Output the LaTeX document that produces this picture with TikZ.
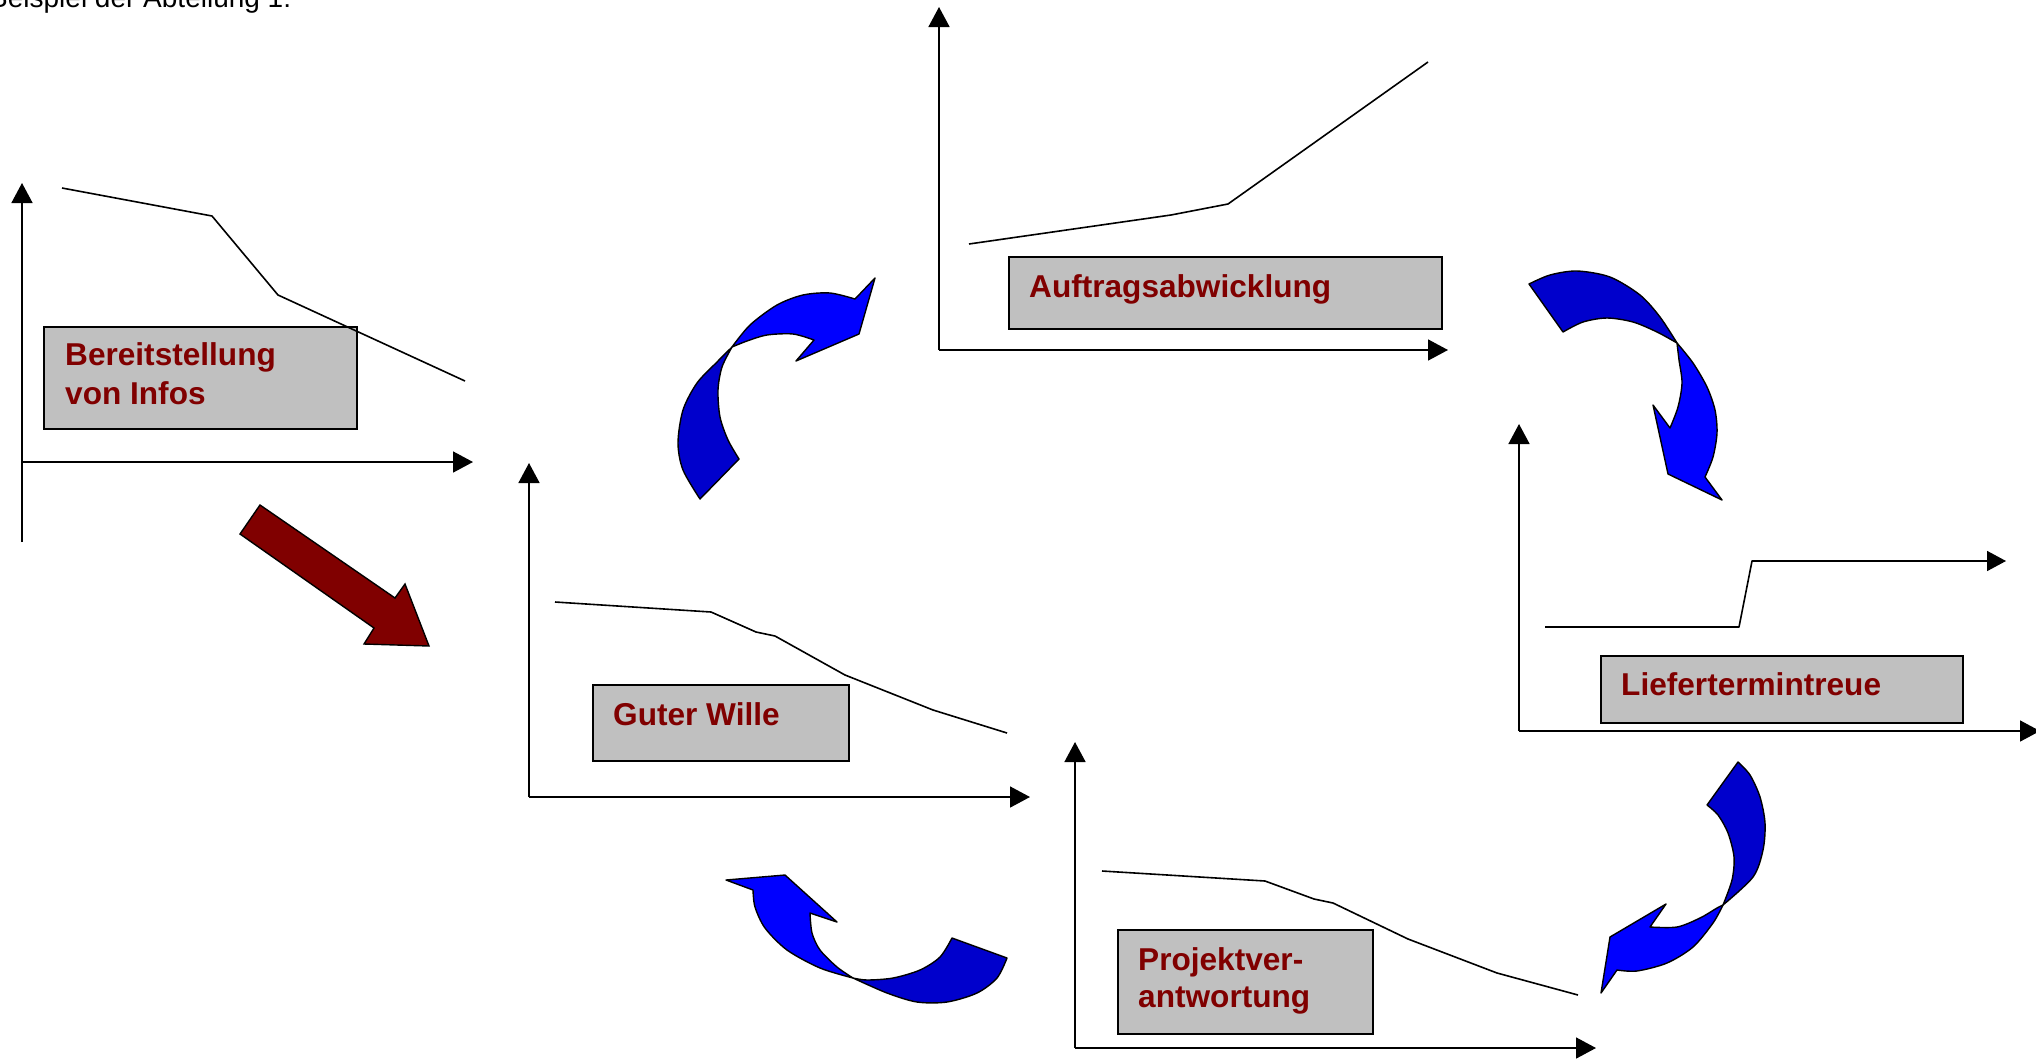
\documentclass[tikz,border=0pt]{standalone}
\usepackage{fontspec}
\setmainfont{Liberation Sans}
\usetikzlibrary{arrows.meta}
\definecolor{boxgray}{HTML}{C0C0C0}
\definecolor{labelred}{HTML}{800000}
\definecolor{arrowdark}{HTML}{0000CC}
\definecolor{arrowblue}{HTML}{0000FF}
\newcommand\labelsize{\fontsize{31.6pt}{38pt}\selectfont\bfseries}
\newcommand\captionsize{\fontsize{28pt}{34pt}\selectfont}

\begin{document}
\begin{tikzpicture}[x=1pt,y=-1pt,
  axis/.style={line width=1.6pt,-{Triangle[length=20pt,width=21pt]}},
  curveline/.style={line width=1.6pt,line join=round},
  valuebox/.style={draw=black,line width=1.8pt,fill=boxgray,inner sep=0pt,anchor=north west},
  boxlabel/.style={font=\labelsize,text=labelred,anchor=base west,inner sep=0pt},
  backband/.style={fill=arrowdark,draw=black,line width=1.4pt,line join=round},
  frontband/.style={fill=arrowblue,draw=black,line width=1.4pt,line join=round},
  bigarrow/.style={fill=labelred,draw=black,line width=1.4pt,line join=miter}]

\clip (0,0) rectangle (2036,1058);
\fill[white] (0,0) rectangle (2036,1058);

% heading, partly outside the page
\node[anchor=base west,inner sep=0pt,font=\captionsize] (heading) at (-11,7) {Beispiel der Abteilung 1:};

% ---------- chart 1: Bereitstellung von Infos ----------
\coordinate (c1yb) at (22,542);
\coordinate (c1yt) at (22,183);
\coordinate (c1o)  at (22,462);
\coordinate (c1xe) at (473,462);
\node[valuebox,minimum width=313,minimum height=102] (box1) at (43,326) {};
\draw[axis] (c1yb) -- (c1yt);
\draw[axis] (c1o) -- (c1xe);
\draw[curveline] (62,188) -- (212,216) -- (278,295) -- (465,381);
\node[boxlabel] (lab1a) at (65,365) {Bereitstellung};
\node[boxlabel] (lab1b) at (65,404) {von Infos};

% ---------- chart 2: Auftragsabwicklung ----------
\coordinate (c2yt) at (939,7);
\coordinate (c2o)  at (939,350);
\coordinate (c2xe) at (1448,350);
\node[valuebox,minimum width=433,minimum height=72] (box2) at (1008,256) {};
\draw[axis] (c2o) -- (c2yt);
\draw[axis] (c2o) -- (c2xe);
\draw[curveline] (969,244) -- (1171,215) -- (1228,204) -- (1428,62);
\node[boxlabel] (lab2) at (1029,297) {Auftragsabwicklung};

% ---------- chart 3: Guter Wille ----------
\coordinate (c3yt) at (529,463);
\coordinate (c3o)  at (529,797);
\coordinate (c3xe) at (1030,797);
\node[valuebox,minimum width=256,minimum height=76] (box3) at (592,684) {};
\draw[axis] (c3o) -- (c3yt);
\draw[axis] (c3o) -- (c3xe);
\draw[curveline] (555,602) -- (711,612) -- (756,632) -- (775,636) -- (845,675) -- (933,710) -- (1007,733);
\node[boxlabel] (lab3) at (613,725) {Guter Wille};

% ---------- chart 4: Projektverantwortung ----------
\coordinate (c4yt) at (1075,742);
\coordinate (c4o)  at (1075,1048);
\coordinate (c4xe) at (1596,1048);
\node[valuebox,minimum width=255,minimum height=104] (box4) at (1117,929) {};
\draw[axis] (c4o) -- (c4yt);
\draw[axis] (c4o) -- (c4xe);
\draw[curveline] (1102,871) -- (1265,881) -- (1314,899) -- (1333,903) -- (1408,939) -- (1497,973) -- (1578,995);
\node[boxlabel] (lab4a) at (1138,970) {Projektver-};
\node[boxlabel] (lab4b) at (1138,1007) {antwortung};

% ---------- chart 5: Liefertermintreue ----------
\coordinate (c5yt) at (1519,424);
\coordinate (c5o)  at (1519,731);
\coordinate (c5xe) at (2040,731);
\coordinate (c5s)  at (1545,627);
\coordinate (c5e)  at (2006,561);
\node[valuebox,minimum width=362,minimum height=67] (box5) at (1600,655) {};
\draw[axis] (c5o) -- (c5yt);
\draw[axis] (c5o) -- (c5xe);
\draw[curveline,-{Triangle[length=19pt,width=20pt]}] (c5s) -- (1739,627) -- (1752,561) -- (c5e);
\node[boxlabel] (lab5) at (1621,695) {Liefertermintreue};

% ---------- dark red arrow from chart 1 to chart 3 ----------
\draw[bigarrow] (260,505) -- (395,598) -- (405,584) -- (429,646) -- (364,644) -- (374,628) -- (240,534) -- cycle;

% ---------- curved arrow: chart 3 -> chart 2 ----------
\path[backband] plot[smooth] coordinates {(700,499) (683,470) (678,443) (683,410) (697,383) (717,362) (732,347)}
  -- plot[smooth] coordinates {(732,347) (722,367) (718,390) (720,417) (728,440) (739,459)} -- cycle;
\path[frontband] plot[smooth] coordinates {(732,347) (750,325) (777,305) (803,295) (830,293) (855,299)}
  -- (875,278) -- (859,334) -- (796,361) -- (814,340)
  -- plot[smooth] coordinates {(814,340) (793,334) (767,335) (747,341) (732,347)} -- cycle;

% ---------- curved arrow: chart 2 -> chart 5 ----------
\path[backband] plot[smooth] coordinates {(1529,284) (1550,275) (1577,271) (1610,277) (1640,295) (1660,317) (1677,343)}
  -- plot[smooth] coordinates {(1677,343) (1657,332) (1633,322) (1607,318) (1583,322) (1563,332)} -- cycle;
\path[frontband] plot[smooth] coordinates {(1677,343) (1693,363) (1707,387) (1715,410) (1717,433) (1713,457) (1705,477)}
  -- (1722,500) -- (1668,474) -- (1653,405) -- (1670,428)
  -- plot[smooth] coordinates {(1670,428) (1678,407) (1682,383) (1679,360) (1677,343)} -- cycle;

% ---------- curved arrow: chart 5 -> chart 4 ----------
\path[backband] plot[smooth] coordinates {(1738,762) (1750,775) (1760,797) (1765,823) (1763,850) (1753,877) (1723,905)}
  -- plot[smooth] coordinates {(1723,905) (1732,880) (1734,857) (1728,833) (1718,815) (1707,805)} -- cycle;
\path[frontband] plot[smooth] coordinates {(1723,905) (1713,923) (1693,947) (1667,963) (1637,971) (1617,970)}
  -- (1601,993) -- (1610,937) -- (1666,904) -- (1650,927)
  -- plot[smooth] coordinates {(1650,927) (1677,927) (1700,918) (1717,908) (1723,905)} -- cycle;

% ---------- curved arrow: chart 4 -> chart 3 ----------
\path[backband] plot[smooth] coordinates {(853,978) (887,993) (917,1002) (947,1002) (977,993) (997,978) (1007,958)}
  -- (952,938)
  -- plot[smooth] coordinates {(952,938) (940,957) (920,970) (893,978) (867,980) (853,978)} -- cycle;
\path[frontband] plot[smooth] coordinates {(853,978) (820,968) (787,950) (765,928) (755,907) (753,890)}
  -- (726,880) -- (785,875) -- (837,922) -- (810,913)
  -- plot[smooth] coordinates {(810,913) (812,933) (820,950) (837,967) (853,978)} -- cycle;

\end{tikzpicture}
\end{document}
